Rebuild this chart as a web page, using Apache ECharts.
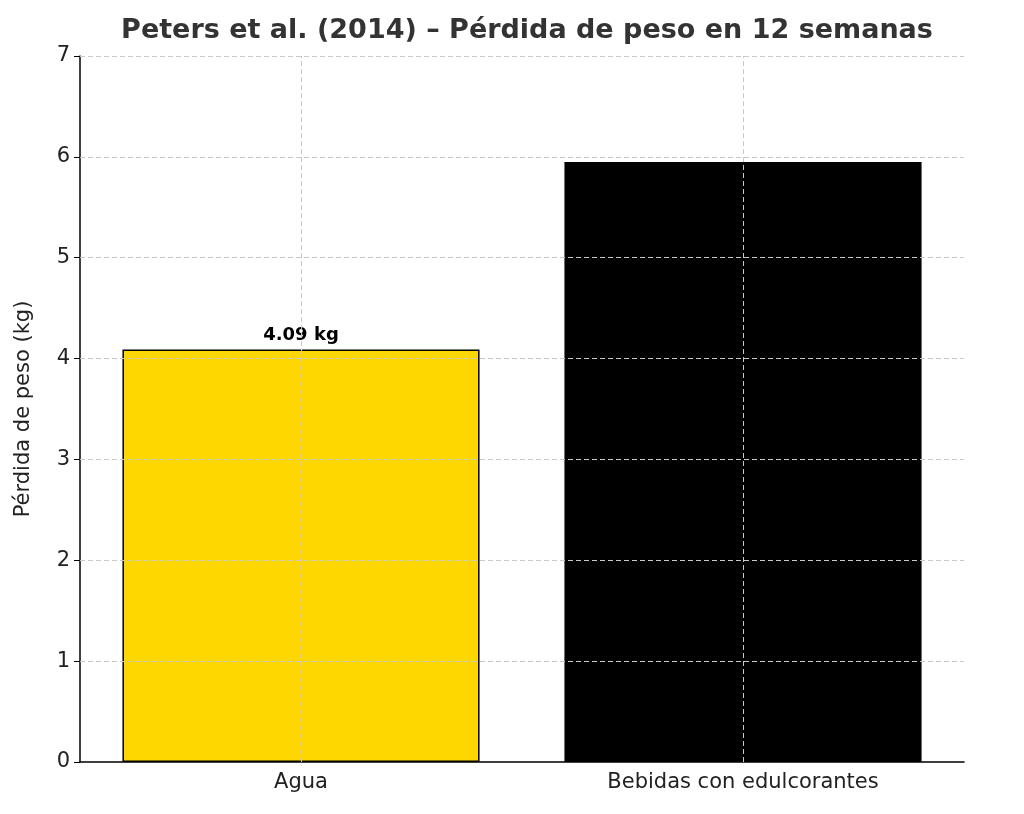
<!DOCTYPE html>
<html><head><meta charset="utf-8">
<script src="https://cdn.jsdelivr.net/npm/echarts@6/dist/echarts.min.js"></script>
<style>html,body{margin:0;background:#fff}#c{width:1024px;height:814px}</style>
</head><body><div id="c"></div>
<script>
const categories = ['Agua', 'Bebidas con edulcorantes'];
const values = [4.09, 5.95];
const colors = ['#FFD700', '#000000'];
const yTicks = [1, 2, 3, 4, 5, 6, 7];
const labels = ['4.09 kg', ''];

const chart = echarts.init(document.getElementById('c'));
const dash = {type: [5, 3], color: '#c8c8c8', width: 1};
chart.setOption({
  animation: false,
  textStyle: {fontFamily: 'DejaVu Sans'},
  title: {text: 'Peters et al. (2014) – Pérdida de peso en 12 semanas', left: 522, textAlign: 'center', top: 12,
    textStyle: {fontSize: 27, fontWeight: 'bold', color: '#333', fontFamily: 'DejaVu Sans'}},
  grid: {left: 80, right: 60, top: 56, bottom: 52},
  xAxis: {type: 'category', data: categories,
    axisLine: {lineStyle: {color: '#000', width: 1.5}},
    axisTick: {alignWithLabel: true, length: 6, lineStyle: {color: '#000'}},
    axisLabel: {fontSize: 21, color: '#222', margin: 10}},
  yAxis: {type: 'value', min: 0, max: 7, interval: 1,
    name: 'Pérdida de peso (kg)', nameLocation: 'middle', nameGap: 46,
    nameTextStyle: {fontSize: 21, color: '#222'},
    axisLine: {show: true, lineStyle: {color: '#000', width: 1.5}},
    axisTick: {show: true, length: 6, lineStyle: {color: '#000'}},
    axisLabel: {fontSize: 21, color: '#222', margin: 10},
    splitLine: {show: false}},
  series: [{type: 'bar', barWidth: '80.8%',
    data: values.map((v, i) => ({value: v, itemStyle: {color: colors[i], borderColor: '#000', borderWidth: 1.5},
      label: {show: !!labels[i], position: 'top', formatter: labels[i], fontSize: 18, fontWeight: 'bold', color: '#000', distance: 5}})),
    markLine: {silent: true, symbol: 'none', label: {show: false}, lineStyle: dash,
      data: yTicks.map(t => ({yAxis: t})).concat(categories.map(c => ({xAxis: c})))}
  }]
});
</script></body></html>
